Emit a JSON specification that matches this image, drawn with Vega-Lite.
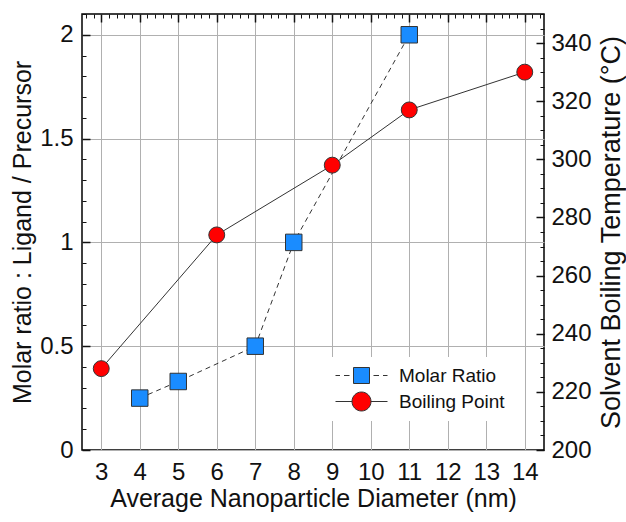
{
  "$schema": "https://vega.github.io/schema/vega-lite/v6.json",
  "width": 462,
  "height": 436,
  "autosize": "none",
  "padding": {"left": 82, "top": 14, "right": 82, "bottom": 72},
  "config": {
    "view": {"stroke": "#000", "strokeWidth": 1.5},
    "font": "Liberation Sans",
    "axis": {
      "labelFont": "Liberation Sans",
      "titleFont": "Liberation Sans",
      "labelColor": "#111",
      "titleColor": "#111",
      "labelFontSize": 24,
      "titleFontSize": 25,
      "titleFontWeight": "normal",
      "gridColor": "#b0b0b0",
      "gridWidth": 1
    },
    "legend": {"labelFont": "Liberation Sans"}
  },
  "data": {
    "values": [
      {"series": "Molar Ratio", "diameter": 4, "value": 0.25},
      {"series": "Molar Ratio", "diameter": 5, "value": 0.33},
      {"series": "Molar Ratio", "diameter": 7, "value": 0.5},
      {"series": "Molar Ratio", "diameter": 8, "value": 1},
      {"series": "Molar Ratio", "diameter": 11, "value": 2},
      {"series": "Boiling Point", "diameter": 3, "value": 228},
      {"series": "Boiling Point", "diameter": 6, "value": 274},
      {"series": "Boiling Point", "diameter": 9, "value": 298},
      {"series": "Boiling Point", "diameter": 11, "value": 317},
      {"series": "Boiling Point", "diameter": 14, "value": 330}
    ]
  },
  "resolve": {
    "scale": {"x": "independent", "y": "independent", "color": "shared", "shape": "shared", "stroke": "shared"},
    "axis": {"x": "independent", "y": "independent"}
  },
  "layer": [
    {
      "transform": [{"filter": "datum.series === 'Molar Ratio'"}],
      "mark": {"type": "line", "stroke": "#333", "strokeWidth": 1, "strokeDash": [5, 4]},
      "encoding": {
        "x": {
          "field": "diameter", "type": "quantitative",
          "scale": {"domain": [2.5, 14.5], "nice": false, "zero": false},
          "axis": {"orient": "bottom", "title": "Average Nanoparticle Diameter (nm)", "tickCount": 12, "grid": true, "ticks": false, "domain": false, "labelPadding": 10, "titlePadding": 2}
        },
        "y": {
          "field": "value", "type": "quantitative",
          "scale": {"domain": [0, 2.1], "nice": false, "zero": false},
          "axis": {"orient": "left", "title": "Molar ratio : Ligand / Precursor", "tickCount": 5, "format": "~g", "grid": true, "ticks": false, "domain": false, "labelPadding": 9, "titlePadding": 4}
        }
      }
    },
    {
      "transform": [{"filter": "datum.series === 'Molar Ratio'"}],
      "mark": {"type": "point", "shape": "square", "filled": true, "fill": "#1a8cff", "stroke": "#333", "strokeWidth": 1, "size": 272, "opacity": 1},
      "encoding": {
        "x": {
          "field": "diameter", "type": "quantitative",
          "scale": {"domain": [2.5, 14.5], "nice": false, "zero": false},
          "axis": {"orient": "bottom", "title": null, "tickCount": 12, "labels": false, "ticks": false, "domain": false, "grid": true, "gridColor": "#111", "gridOpacity": 1, "gridWidth": 1.5, "gridDash": [8, 2000]}
        },
        "y": {
          "field": "value", "type": "quantitative",
          "scale": {"domain": [0, 2.1], "nice": false, "zero": false},
          "axis": {"orient": "left", "title": null, "tickCount": 5, "labels": false, "ticks": false, "domain": false, "grid": true, "gridColor": "#111", "gridOpacity": 1, "gridWidth": 1.5, "gridDash": [8, 2000]}
        }
      }
    },
    {
      "transform": [{"filter": "datum.series === 'Boiling Point'"}],
      "mark": {"type": "line", "stroke": "#333", "strokeWidth": 1},
      "encoding": {
        "x": {
          "field": "diameter", "type": "quantitative",
          "scale": {"domain": [2.5, 14.5], "nice": false, "zero": false},
          "axis": {"orient": "bottom", "title": null, "tickCount": 60, "labels": false, "ticks": false, "domain": false, "grid": true, "gridColor": "#111", "gridOpacity": 1, "gridWidth": 1, "gridDash": [4, 2000]}
        },
        "y": {
          "field": "value", "type": "quantitative",
          "scale": {"domain": [200, 350], "nice": false, "zero": false},
          "axis": {"orient": "right", "title": "Solvent Boiling Temperature (°C)", "tickCount": 8, "grid": false, "ticks": false, "domain": false, "labelPadding": 7, "titlePadding": 7, "titleAngle": 270, "titleBaseline": "top", "titleFontSize": 27}
        }
      }
    },
    {
      "transform": [{"filter": "datum.series === 'Boiling Point'"}],
      "mark": {"type": "point", "shape": "circle", "filled": true, "fill": "#ff0000", "stroke": "#333", "strokeWidth": 1, "size": 254, "opacity": 1},
      "encoding": {
        "x": {
          "field": "diameter", "type": "quantitative",
          "scale": {"domain": [2.5, 14.5], "nice": false, "zero": false},
          "axis": null
        },
        "y": {
          "field": "value", "type": "quantitative",
          "scale": {"domain": [200, 350], "nice": false, "zero": false},
          "axis": {"orient": "right", "title": null, "tickCount": 8, "labels": false, "ticks": false, "domain": false, "grid": true, "gridColor": "#111", "gridOpacity": 1, "gridWidth": 1.5, "gridDash": [8, 2000]}
        }
      }
    },
    {
      "transform": [{"filter": "datum.series === 'Boiling Point'"}],
      "mark": {"type": "point", "opacity": 0},
      "encoding": {
        "x": {
          "field": "diameter", "type": "quantitative",
          "scale": {"domain": [2.5, 14.5], "nice": false, "zero": false},
          "axis": null
        },
        "y": {
          "field": "value", "type": "quantitative",
          "scale": {"domain": [200, 350], "nice": false, "zero": false},
          "axis": {"orient": "right", "title": null, "tickCount": 30, "labels": false, "ticks": false, "domain": false, "grid": true, "gridColor": "#111", "gridOpacity": 1, "gridWidth": 1, "gridDash": [4, 2000]}
        }
      }
    },
    {
      "mark": {"type": "point", "filled": true, "opacity": 0, "strokeWidth": 1},
      "encoding": {
        "x": {
          "field": "diameter", "type": "quantitative",
          "scale": {"domain": [2.5, 14.5], "nice": false, "zero": false},
          "axis": null
        },
        "y": {
          "field": "value", "type": "quantitative",
          "scale": {"domain": [0, 2.1], "nice": false, "zero": false},
          "axis": {"orient": "left", "title": null, "tickCount": 21, "labels": false, "ticks": false, "domain": false, "grid": true, "gridColor": "#111", "gridOpacity": 1, "gridWidth": 1, "gridDash": [4, 2000]}
        },
        "stroke": {
          "field": "series", "type": "nominal",
          "scale": {"domain": ["Molar Ratio", "Boiling Point"], "range": ["#333333", "#333333"]},
          "legend": {"orient": "none", "legendX": 246, "legendY": 343, "title": null, "padding": 8, "fillColor": "white", "symbolSize": 400, "symbolOffset": 15, "labelOffset": 27, "labelFontSize": 19, "labelColor": "#111", "rowPadding": 4, "symbolOpacity": 1, "symbolStrokeWidth": 1}
        },
        "color": {
          "field": "series", "type": "nominal",
          "scale": {"domain": ["Molar Ratio", "Boiling Point"], "range": ["#1a8cff", "#ff0000"]},
          "legend": {"orient": "none", "legendX": 246, "legendY": 343, "title": null, "padding": 8, "fillColor": "white", "symbolSize": 400, "symbolOffset": 15, "labelOffset": 27, "labelFontSize": 19, "labelColor": "#111", "rowPadding": 4, "symbolOpacity": 1, "symbolStrokeWidth": 1}
        },
        "shape": {
          "field": "series", "type": "nominal",
          "scale": {"domain": ["Molar Ratio", "Boiling Point"], "range": ["M-2.6,0H-2.15M-1.75,0H-1.2M1.2,0H1.75M2.15,0H2.6M-0.8,-0.8H0.8V0.8H-0.8Z", "M-2.6,0H-0.95M0.95,0H2.6M0.95,0A0.95,0.95,0,1,1,-0.95,0A0.95,0.95,0,1,1,0.95,0Z"]},
          "legend": {"orient": "none", "legendX": 246, "legendY": 343, "title": null, "padding": 8, "fillColor": "white", "symbolSize": 400, "symbolOffset": 15, "labelOffset": 27, "labelFontSize": 19, "labelColor": "#111", "rowPadding": 4, "symbolOpacity": 1, "symbolStrokeWidth": 1}
        }
      }
    }
  ]
}
